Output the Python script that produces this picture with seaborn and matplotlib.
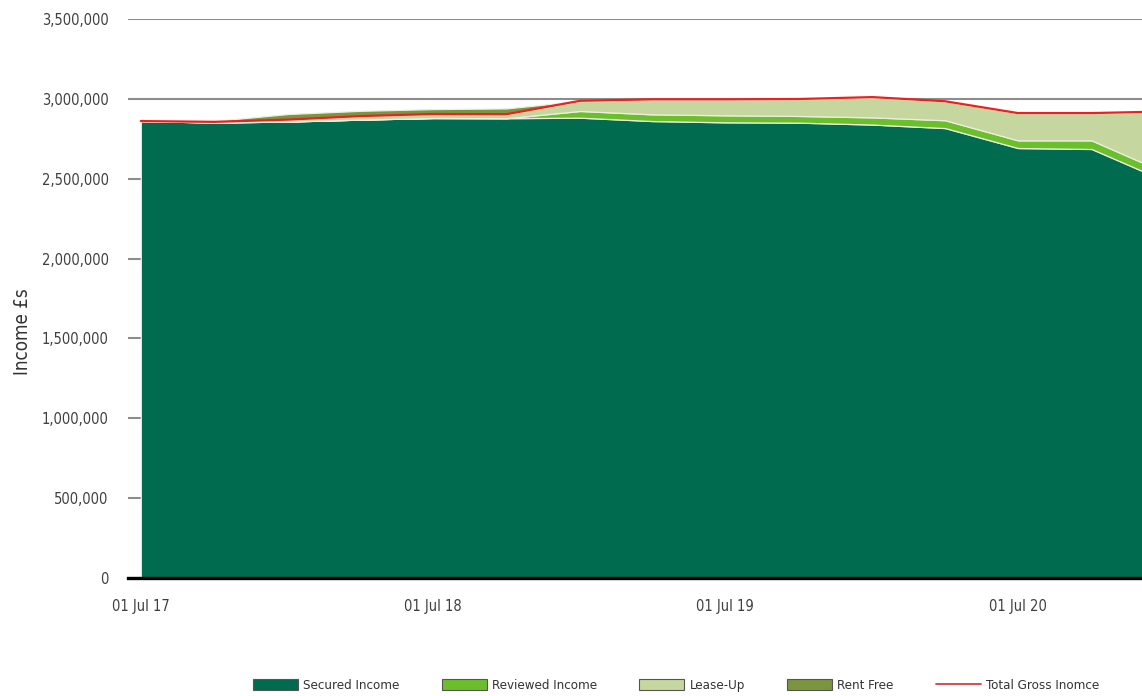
import matplotlib
matplotlib.use("Agg")
import matplotlib.pyplot as plt
import matplotlib.dates as mdates
import matplotlib.ticker as mticker
from matplotlib.patches import Patch
from matplotlib.lines import Line2D
import pandas as pd
import seaborn as sns

# Quarterly income projection (GBP)
quarters = pd.date_range("2017-07-01", "2021-01-01", freq="QS-JAN")
secured_income = [2861000, 2852000, 2858000, 2870000, 2880000, 2879000, 2882000,
                  2861000, 2853000, 2851000, 2839000, 2817000, 2692000, 2686000, 2486000]
reviewed_income = [0, 0, 0, 0, 0, 0, 42000,
                   42000, 44000, 42000, 45000, 49000, 48000, 54000, 52000]
lease_up = [0, 4000, 12000, 22000, 25000, 25000, 64000,
            94000, 100000, 106000, 127000, 119000, 171000, 171000, 383000]
rent_free = [0, 6000, 35000, 33000, 31000, 36000, 0,
             0, 0, 0, 0, 0, 0, 0, 0]

series_labels = ["Secured Income", "Reviewed Income", "Lease-Up", "Rent Free"]
total_label = "Total Gross Inomce"
y_ticks = [0, 500000, 1000000, 1500000, 2000000, 2500000, 3000000, 3500000]

colors = ["#006b4f", "#6bbf2b", "#c6d69f", "#7a9440"]
red = "#e8231f"

df = pd.DataFrame({
    "date": quarters,
    "secured": secured_income,
    "reviewed": reviewed_income,
    "lease_up": lease_up,
    "rent_free": rent_free,
})
df["total"] = df["secured"] + df["reviewed"] + df["lease_up"]

sns.set_theme(style="white")
plt.rcParams["font.family"] = ["DejaVu Sans"]
plt.rcParams["font.stretch"] = "condensed"

fig = plt.figure(figsize=(11.42, 6.96), dpi=100)
ax = fig.add_axes([128 / 1142, 118 / 696, 1 - 128 / 1142, (578 - 19) / 696])

ax.set_axisbelow(True)
ax.yaxis.grid(True, color="#8c8c8c", linewidth=1.5)
ax.xaxis.grid(False)

ax.stackplot(df["date"], df["secured"], df["reviewed"], df["lease_up"], df["rent_free"],
             colors=colors, edgecolor="#e9f0df", linewidth=0.9, zorder=2)
sns.lineplot(data=df, x="date", y="total", color=red, linewidth=1.6, ax=ax,
             legend=False, zorder=3)

ax.set_xlim(pd.Timestamp("2017-06-15"), pd.Timestamp("2020-12-03"))
ax.set_ylim(0, 3500000)
ax.set_yticks(y_ticks)
ax.yaxis.set_major_formatter(mticker.StrMethodFormatter("{x:,.0f}"))
ax.xaxis.set_major_locator(mdates.MonthLocator(bymonth=7, bymonthday=1))
ax.xaxis.set_major_formatter(mdates.DateFormatter("%d %b %y"))

for side in ["top", "right", "left"]:
    ax.spines[side].set_visible(False)
ax.spines["bottom"].set_color("black")
ax.spines["bottom"].set_linewidth(2.4)
ax.spines["bottom"].set_zorder(5)

ax.tick_params(axis="y", length=0, pad=14, labelsize=10.5, labelcolor="#3f3f3f")
ax.tick_params(axis="x", length=0, pad=15, labelsize=10.5, labelcolor="#3f3f3f")
ax.set_xlabel("")
ax.set_ylabel("")
fig.text(22 / 1142, (696 - 332) / 696, "Income £s", rotation=90, fontsize=13.5,
         color="#333333", ha="center", va="center")

handles = [Patch(facecolor=c, edgecolor="#555555", linewidth=0.8) for c in colors]
handles.append(Line2D([0], [0], color="#d04040", linewidth=1.3))
fig.legend(handles, series_labels + [total_label], loc="center",
           bbox_to_anchor=(0.592, 0.0144), ncol=5, frameon=False,
           fontsize=9.5, handlelength=3.4, handleheight=0.9,
           handletextpad=0.4, columnspacing=3.2, labelcolor="#333333")

fig.savefig("out.png", dpi=100)
